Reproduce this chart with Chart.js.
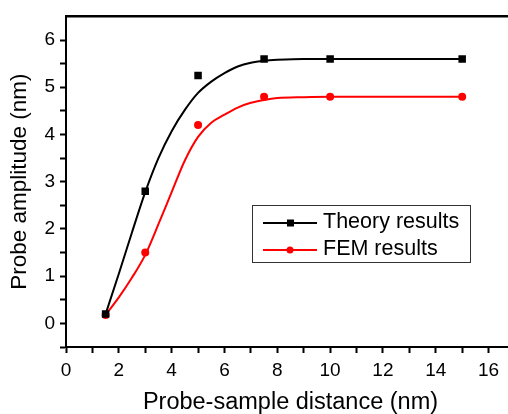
<!DOCTYPE html>
<html>
<head>
<meta charset="utf-8">
<script src="https://cdn.jsdelivr.net/npm/chart.js@4.4.1/dist/chart.umd.min.js"></script>
<style>
  html, body { margin: 0; padding: 0; background: #fff; overflow: hidden; width: 508px; height: 414px; }
  #wrap { width: 515px; height: 414px; }
  #probeChart { display: block; width: 515px; height: 414px; }
</style>
</head>
<body>
<div id="wrap"><canvas id="probeChart" width="515" height="414"></canvas></div>
<script>
// measured points
const distance = [1.5, 3, 5, 7.5, 10, 15];
const theory = [0.2, 2.8, 5.25, 5.6, 5.6, 5.6];
const fem = [0.18, 1.5, 4.2, 4.8, 4.8, 4.8];

// fitted curves
const fitX = [1.5, 2, 2.5, 3, 3.5, 4, 4.5, 5, 5.5, 6, 6.5, 7, 7.5, 8, 9, 10, 15];
const theoryFit = [0.2, 1.05, 1.93, 2.78, 3.5, 4.07, 4.52, 4.88, 5.12, 5.3, 5.44, 5.52, 5.56, 5.58, 5.6, 5.6, 5.6];
const femFit = [0.18, 0.55, 0.97, 1.45, 2.1, 2.78, 3.45, 3.95, 4.25, 4.42, 4.57, 4.67, 4.73, 4.77, 4.79, 4.8, 4.8];

const seriesNames = ['Theory results', 'FEM results'];
const xTicks = [0, 1, 2, 3, 4, 5, 6, 7, 8, 9, 10, 11, 12, 13, 14, 15, 16];
const yTicks = [-0.5, 0, 0.5, 1, 1.5, 2, 2.5, 3, 3.5, 4, 4.5, 5, 5.5, 6];

const pts = (xs, ys) => xs.map((x, i) => ({ x: x, y: ys[i] }));
const FONT = "'Liberation Sans', Arial, sans-serif";

// legend drawn inside the plot, boxed
const boxLegend = {
  id: 'boxLegend',
  afterDraw(chart) {
    const ctx = chart.ctx;
    const items = [
      { label: seriesNames[0], color: '#000000', style: 'rect' },
      { label: seriesNames[1], color: '#ff0000', style: 'circle' }
    ];
    ctx.save();
    ctx.strokeStyle = '#333';
    ctx.lineWidth = 1;
    ctx.strokeRect(252.5, 205.5, 218, 57);
    items.forEach((it, i) => {
      const y = 223 + i * 27;
      ctx.strokeStyle = it.color;
      ctx.lineWidth = 2;
      ctx.beginPath();
      ctx.moveTo(263, y);
      ctx.lineTo(317, y);
      ctx.stroke();
      ctx.fillStyle = it.color;
      if (it.style === 'rect') {
        ctx.fillRect(287, y - 3.5, 7, 7);
      } else {
        ctx.beginPath();
        ctx.arc(290, y, 3.5, 0, Math.PI * 2);
        ctx.fill();
      }
      ctx.fillStyle = '#000';
      ctx.font = '21.5px ' + FONT;
      ctx.textBaseline = 'middle';
      ctx.textAlign = 'left';
      ctx.fillText(it.label, 323, y - 1);
    });
    ctx.restore();
  }
};

const ctx = document.getElementById('probeChart').getContext('2d');
const probeChart = new Chart(ctx, {
  type: 'scatter',
  data: {
    datasets: [
      {
        label: seriesNames[0],
        data: pts(distance, theory),
        showLine: false,
        pointStyle: 'rect',
        pointRadius: 5.3,
        backgroundColor: '#000',
        borderColor: '#000',
        borderWidth: 0
      },
      {
        label: seriesNames[1],
        data: pts(distance, fem),
        showLine: false,
        pointStyle: 'circle',
        pointRadius: 4,
        backgroundColor: '#ff0000',
        borderColor: '#ff0000',
        borderWidth: 0
      },
      {
        label: 'theory fit',
        data: pts(fitX, theoryFit),
        showLine: true,
        pointRadius: 0,
        borderColor: '#000',
        borderWidth: 2,
        cubicInterpolationMode: 'monotone'
      },
      {
        label: 'fem fit',
        data: pts(fitX, femFit),
        showLine: true,
        pointRadius: 0,
        borderColor: '#ff0000',
        borderWidth: 2,
        cubicInterpolationMode: 'monotone'
      }
    ]
  },
  options: {
    responsive: false,
    animation: false,
    layout: { padding: 0, autoPadding: false },
    plugins: {
      legend: { display: false },
      tooltip: { enabled: false }
    },
    scales: {
      x: {
        type: 'linear',
        position: 'bottom',
        min: 0,
        max: 17,
        afterBuildTicks: s => { s.ticks = xTicks.map(v => ({ value: v })); },
        afterFit: s => { s.height = 67; s.paddingRight = 0; },
        grid: { drawOnChartArea: false, tickLength: 6, tickWidth: 2, tickColor: '#000' },
        border: { display: true, color: '#000', width: 2 },
        ticks: {
          autoSkip: false,
          maxRotation: 0,
          padding: 6,
          color: '#000',
          font: { family: FONT, size: 19 },
          callback: v => (v % 2 === 0 ? String(v) : '')
        },
        title: {
          display: true,
          text: 'Probe-sample distance (nm)',
          color: '#000',
          font: { family: FONT, size: 23.5, lineHeight: 1 },
          padding: { top: 0, bottom: 0 }
        }
      },
      xTop: {
        type: 'linear',
        position: 'top',
        min: 0,
        max: 17,
        afterFit: s => { s.height = 16; s.paddingRight = 0; },
        grid: { display: true, drawOnChartArea: false, drawTicks: false },
        border: { display: true, color: '#000', width: 2.5 },
        ticks: { display: false }
      },
      y: {
        type: 'linear',
        position: 'left',
        min: -0.5,
        max: 6.5,
        afterBuildTicks: s => { s.ticks = yTicks.map(v => ({ value: v })); },
        afterFit: s => { s.width = 66; },
        grid: { drawOnChartArea: false, tickLength: 6, tickWidth: 2, tickColor: '#000' },
        border: { display: true, color: '#000', width: 2 },
        ticks: {
          autoSkip: false,
          padding: 5,
          color: '#000',
          font: { family: FONT, size: 19 },
          callback: v => (Number.isInteger(v) ? String(v) : '')
        },
        title: {
          display: true,
          text: 'Probe amplitude (nm)',
          color: '#000',
          font: { family: FONT, size: 22.5, lineHeight: 1 },
          padding: { top: 9, bottom: 0 }
        }
      }
    }
  },
  plugins: [boxLegend]
});
</script>
</body>
</html>
